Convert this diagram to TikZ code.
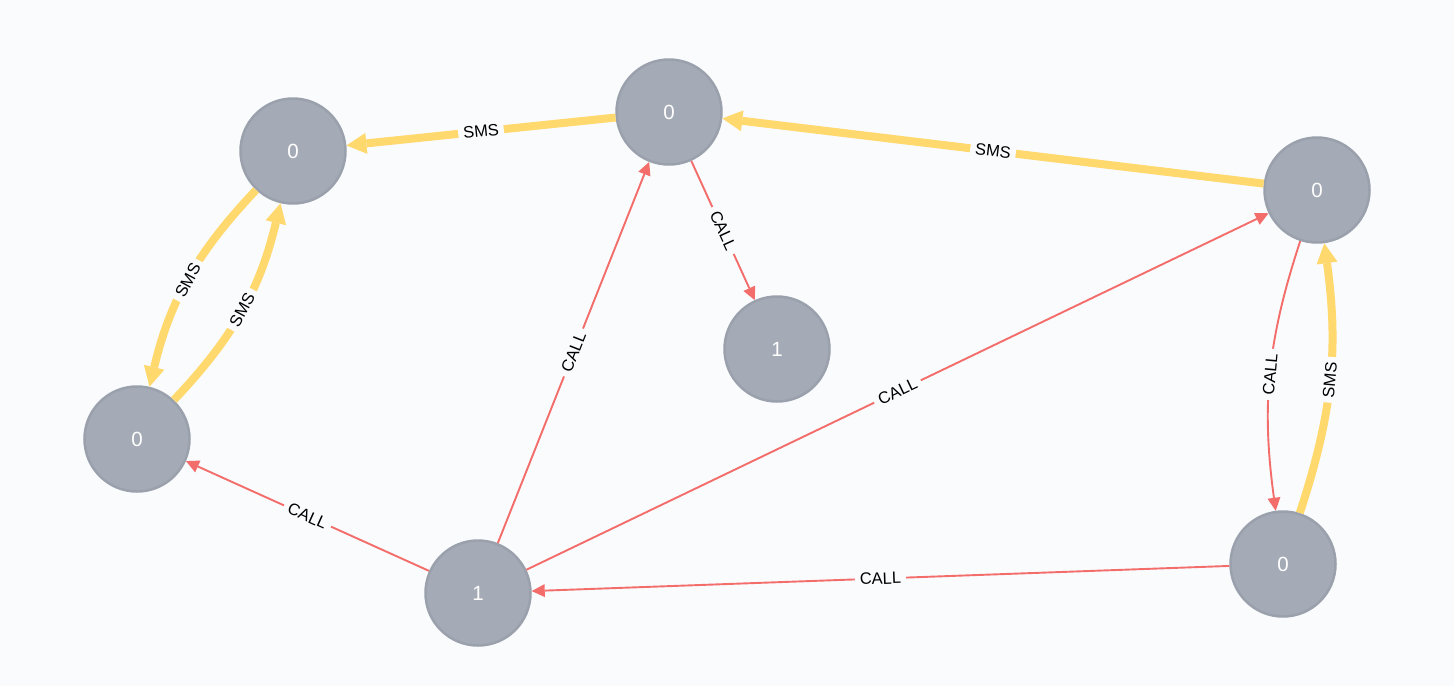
\documentclass[tikz,border=0pt]{standalone}
\usepackage{fontspec}
\setmainfont{Liberation Sans}
\usetikzlibrary{arrows.meta}
\definecolor{bgc}{HTML}{F9FBFD}
\definecolor{nodefill}{HTML}{A5ABB6}
\definecolor{nodeline}{HTML}{9AA1AC}
\definecolor{yel}{HTML}{FFD86E}
\definecolor{redc}{HTML}{F36D6B}
\tikzset{
  vtx/.style={circle, minimum size=105pt, inner sep=0pt, fill=nodefill, draw=nodeline, line width=2.5pt,
    text=white, font=\fontsize{20.5}{22}\selectfont},
  sms/.style={draw=yel, line width=8pt, -{Triangle[length=20pt,width=21pt,line width=0pt 0]}},
  call/.style={draw=redc, line width=1.9pt, -{Triangle[length=13pt,width=13pt,line width=0pt 0]}},
  lbl/.style={midway, sloped, fill=bgc, text=black, inner xsep=5pt, inner ysep=2pt,
    font=\fontsize{16.5}{18}\selectfont},
}
\begin{document}
\begin{tikzpicture}[x=1pt,y=-1pt]
\fill[bgc] (0,0) rectangle (1454,686);
\useasboundingbox (0,0) rectangle (1454,686);

\node[vtx] (A) at (293,151) {0};
\node[vtx] (B) at (669,112) {0};
\node[vtx] (C) at (1317,190) {0};
\node[vtx] (D) at (137,439) {0};
\node[vtx] (E) at (777,349) {1};
\node[vtx] (F) at (478,593) {1};
\node[vtx] (G) at (1283,564) {0};

\draw[sms] (B) -- node[lbl] {SMS} (A);
\draw[sms] (C) -- node[lbl] {SMS} (B);
\draw[sms] (A) to[bend right=15] node[lbl] {SMS} (D);
\draw[sms] (D) to[bend right=15] node[lbl] {SMS} (A);
\draw[sms] (G) to[bend right=13] node[lbl] {SMS} (C);

\draw[call] (B) -- node[lbl] {CALL} (E);
\draw[call] (F) -- node[lbl] {CALL} (B);
\draw[call] (F) -- node[lbl] {CALL} (D);
\draw[call] (F) -- node[lbl] {CALL} (C);
\draw[call] (G) -- node[lbl] {CALL} (F);
\draw[call] (C) to[bend right=13] node[lbl] {CALL} (G);
\end{tikzpicture}
\end{document}
